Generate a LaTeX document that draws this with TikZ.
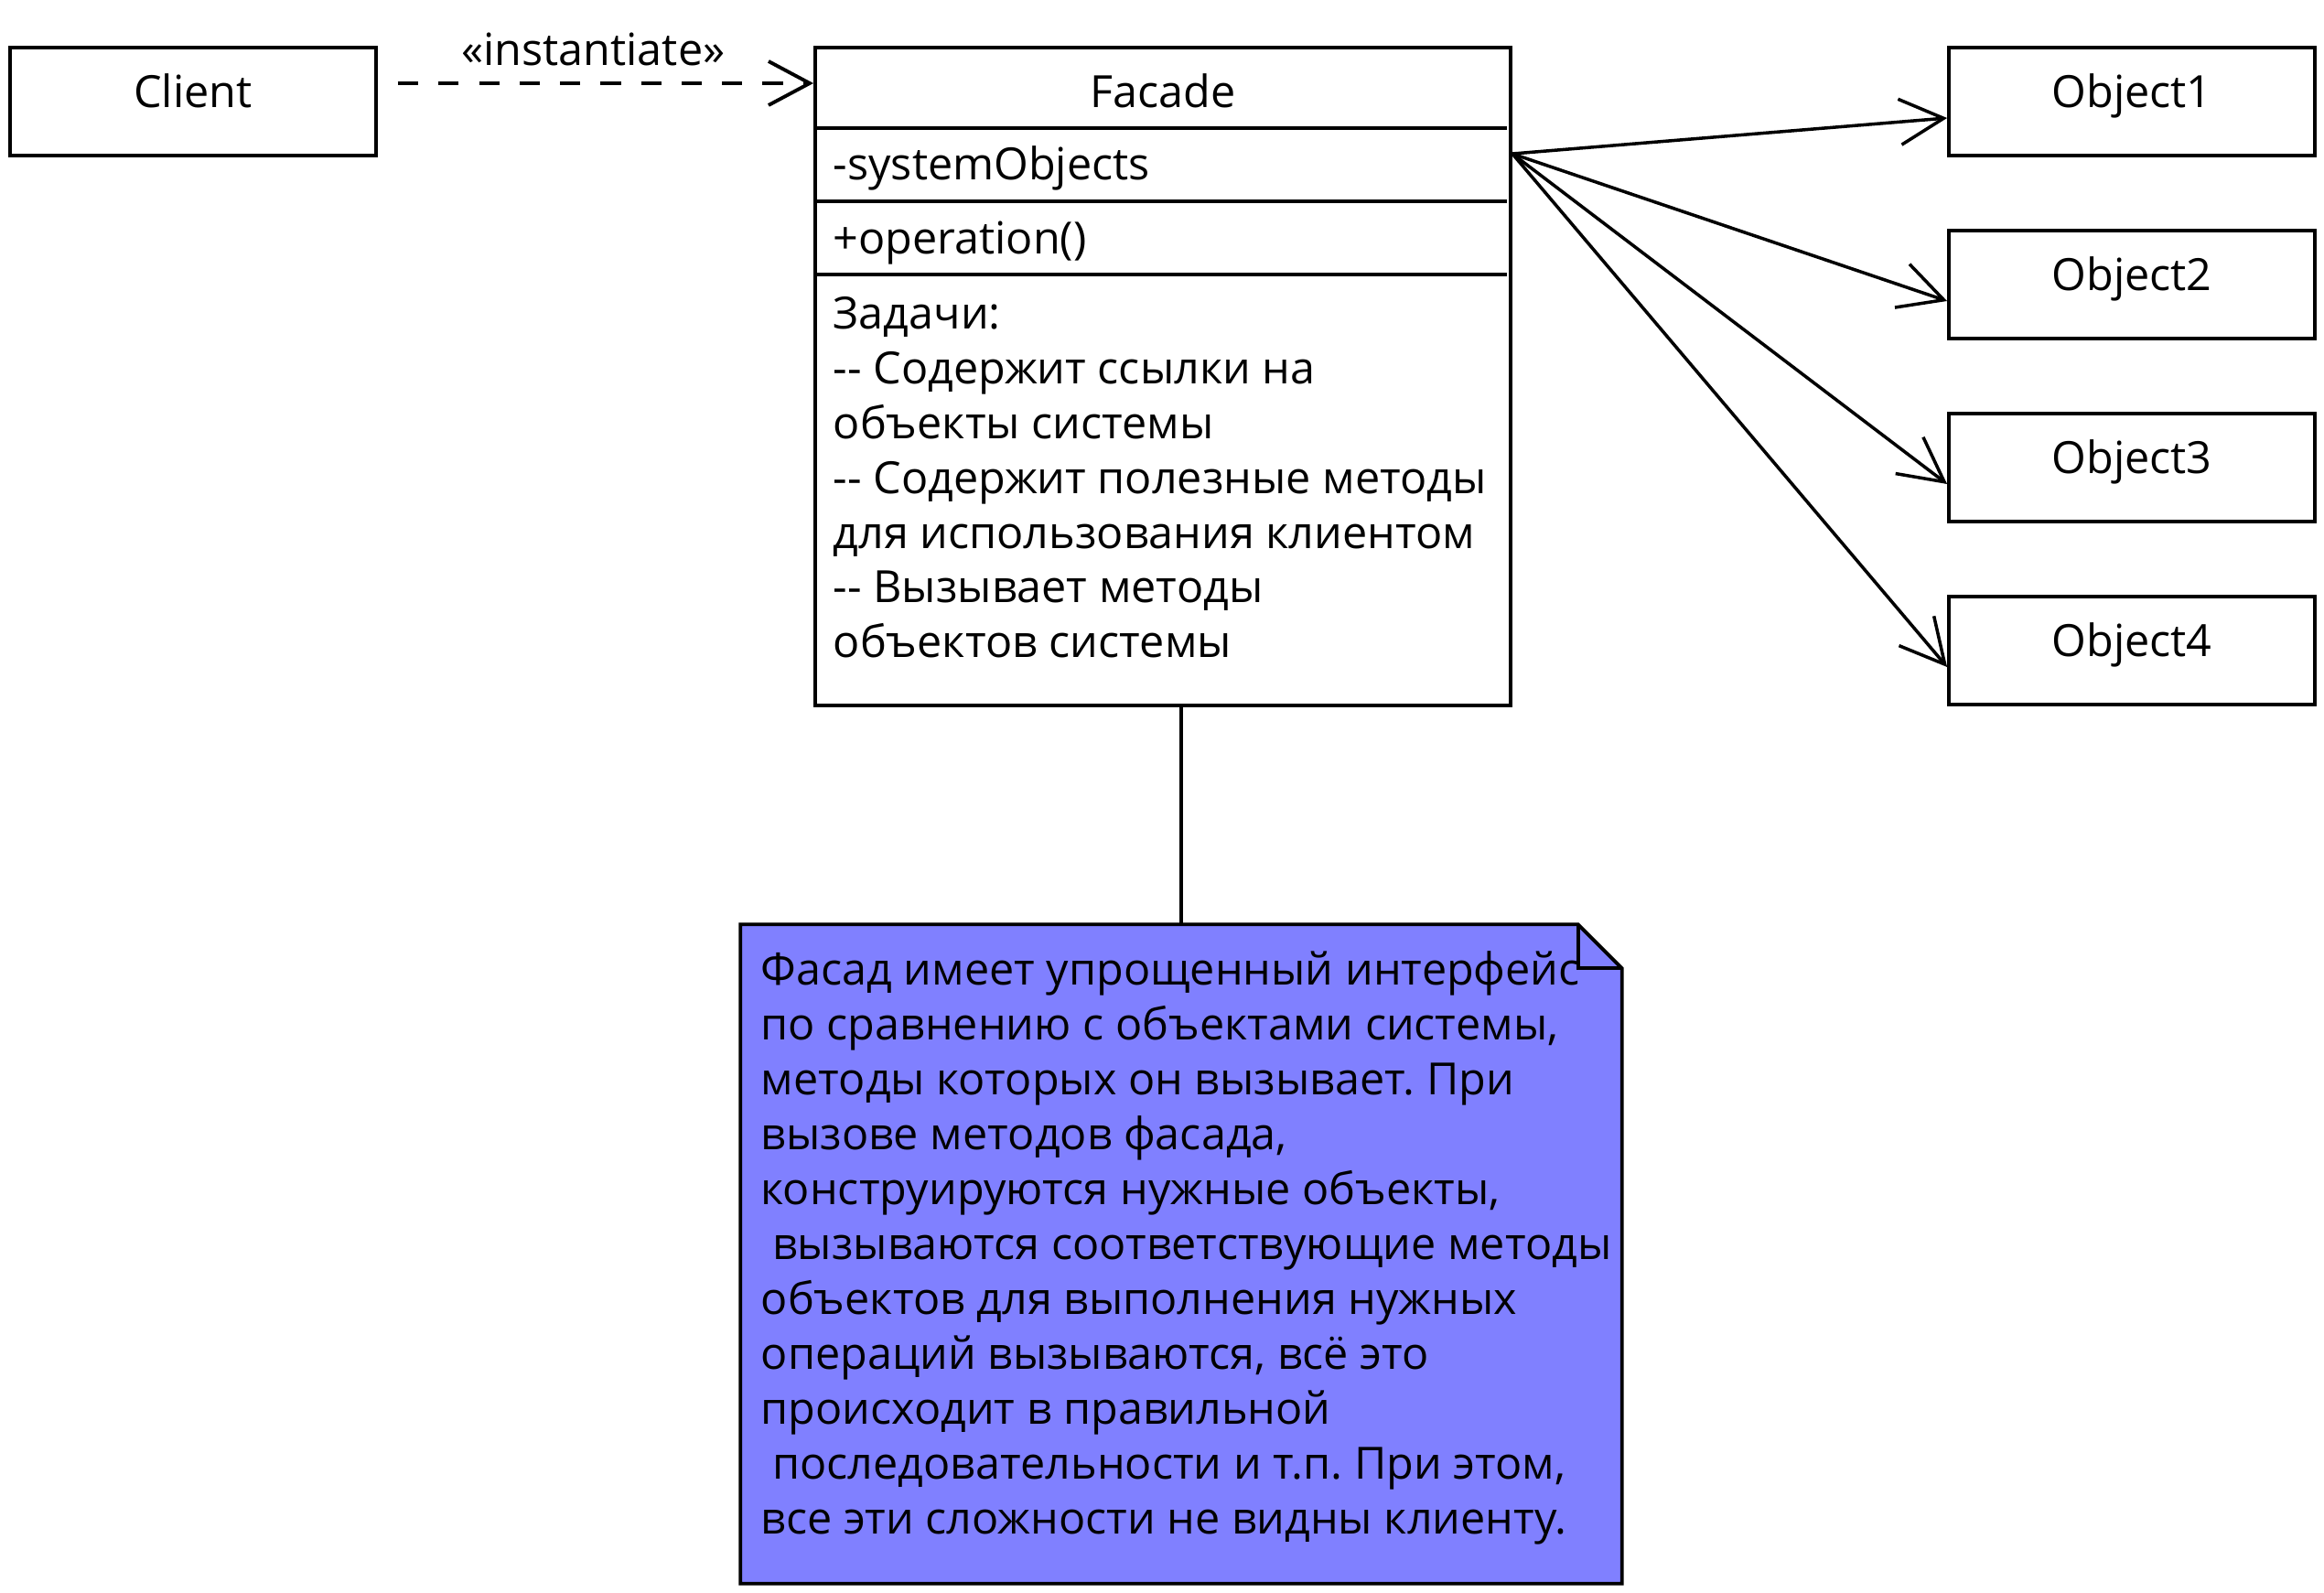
\documentclass[tikz,border=0pt]{standalone}
\usepackage{fontspec}
\setmainfont{Open Sans}
\usepackage{tikz}
\usetikzlibrary{arrows.meta}
\frenchspacing
\definecolor{notecol}{rgb}{0.502, 0.502, 1}
\tikzstyle{umlbox}=[draw, line width=1.1pt, inner sep=0pt, minimum width=4cm, minimum height=1.18cm, text height=0.38cm, text depth=0.24cm]
\tikzstyle{uline}=[line width=1pt]
\tikzstyle{assoc}=[line width=1pt, -{Straight Barb[length=0.48cm, width=0.5cm]}]
\tikzstyle{dep}=[line width=1.1pt, dash pattern=on 6.3pt off 6.3pt, -{Straight Barb[length=0.45cm, width=0.48cm]}]
\tikzstyle{txt}=[inner sep=0pt, align=left]

\begin{document}
\begin{tikzpicture}[font=\fontsize{13.8pt}{17.07pt}\selectfont]
\useasboundingbox (0,0) rectangle (25.4,17.4);

\node[umlbox] (client) at (2.11, 16.29) {Client};
\node[draw, line width=1.1pt, inner sep=0pt, minimum width=7.6cm, minimum height=7.19cm] (facade) at (12.71, 13.285) {};
\node[umlbox] (obj1) at (23.30, 16.29) {Object1};
\node[umlbox] (obj2) at (23.30, 14.29) {Object2};
\node[umlbox] (obj3) at (23.30, 12.29) {Object3};
\node[umlbox] (obj4) at (23.30, 10.29) {Object4};

% facade compartments
\draw[line width=1.1pt] (8.91, 16.00) -- (16.47, 16.00) (8.91, 15.20) -- (16.47, 15.20) (8.91, 14.40) -- (16.47, 14.40);
\node[txt, anchor=base] (ftitle) at (12.71, 16.22) {Facade};
\node[txt, anchor=base west] (fattr) at (9.10, 15.43) {-systemObjects};
\node[txt, anchor=base west] (fop) at (9.10, 14.62) {+operation()};
% base = baseline of the last line
\node[txt, anchor=base west] (fbody) at (9.10, 10.21) {Задачи:\\
-{}- Содержит ссылки на\\
объекты системы\\
-{}- Содержит полезные методы\\
для использования клиентом\\
-{}- Вызывает методы\\
объектов системы};

% note
\node[inner sep=0pt, minimum width=9.62cm, minimum height=7.19cm] (note) at (12.91, 3.695) {};
\draw[line width=1.1pt, fill=notecol] (note.south west) -- (note.north west) -- ([xshift=-0.48cm]note.north east) -- ([yshift=-0.48cm]note.north east) -- (note.south east) -- cycle;
\draw[line width=1.1pt] ([xshift=-0.48cm]note.north east) |- ([yshift=-0.48cm]note.north east);
\node[txt, anchor=base west] (notetext) at (8.31, 0.64) {Фасад имеет упрощенный интерфейс\\
по сравнению с объектами системы,\\
методы которых он вызывает. При\\
вызове методов фасада,\\
конструируются нужные объекты,\\
~вызываются соответствующие методы\\
объектов для выполнения нужных\\
операций вызываются, всё это\\
происходит в правильной\\
~последовательности и т.п. При этом,\\
все эти сложности не видны клиенту.};
\draw[uline] (note.north) -- (note.north |- facade.south);

% connectors
\coordinate (depstart) at ([shift={(0.22,0.20)}]client.east);
\draw[dep] (depstart) -- (depstart -| facade.west) node[pos=0.47, above, inner sep=0.17cm] (deplabel) {«instantiate»};
\coordinate (fork) at ([yshift=-1.18cm]facade.north east);
\foreach \o in {obj1,obj2,obj3,obj4}
  \draw[assoc] (fork) -- ([yshift=-0.18cm]\o.west);

\end{tikzpicture}
\end{document}
